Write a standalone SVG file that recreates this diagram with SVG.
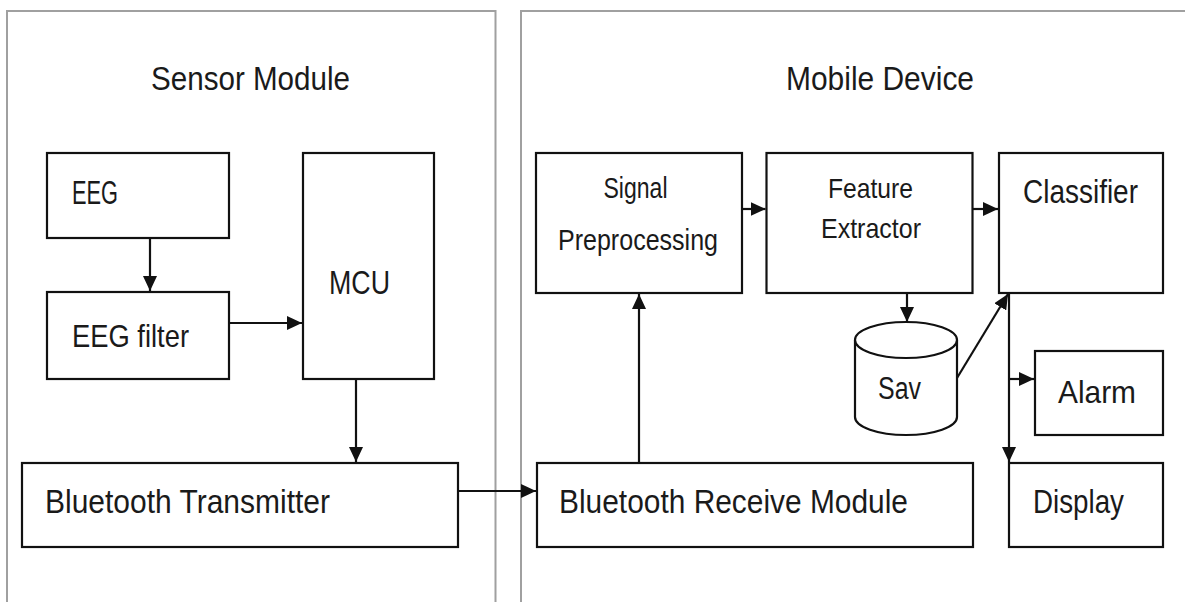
<svg xmlns="http://www.w3.org/2000/svg" width="1185" height="602" viewBox="0 0 1185 602">
  <style>
    .panel { fill: none; stroke: #a0a0a0; stroke-width: 2; }
    .box { fill: #ffffff; stroke: #111111; stroke-width: 2.2; }
    .link { fill: none; stroke: #111111; stroke-width: 2.2; }
    text { font-family: "Liberation Sans", Arial, sans-serif; fill: #1a1a1a; }
  </style>
  <defs>
    <marker id="head" markerUnits="userSpaceOnUse" markerWidth="16" markerHeight="14" refX="15" refY="7" orient="auto">
      <path d="M0,0 L15,7 L0,14 z" fill="#111111"/>
    </marker>
  </defs>

  <rect width="1185" height="602" fill="#ffffff"/>

  <!-- Two enclosing areas, open at the bottom -->
  <g id="sensor-module">
    <path class="panel" d="M7,602 V11 H495.5 V602"/>
    <text x="151" y="90" font-size="34" textLength="199" lengthAdjust="spacingAndGlyphs">Sensor Module</text>
  </g>
  <g id="mobile-device">
    <path class="panel" d="M521,602 V11 H1190"/>
    <text x="786" y="90" font-size="34" textLength="188" lengthAdjust="spacingAndGlyphs">Mobile Device</text>
  </g>

  <!-- Sensor side -->
  <g id="eeg">
    <rect class="box" x="47" y="153" width="182" height="85"/>
    <text x="72" y="204" font-size="33" textLength="46" lengthAdjust="spacingAndGlyphs">EEG</text>
  </g>
  <g id="eeg-filter">
    <rect class="box" x="47" y="292" width="182" height="87"/>
    <text x="72" y="347" font-size="32" textLength="117" lengthAdjust="spacingAndGlyphs">EEG filter</text>
  </g>
  <g id="mcu">
    <rect class="box" x="303" y="153" width="131" height="226"/>
    <text x="329" y="294" font-size="33" textLength="61" lengthAdjust="spacingAndGlyphs">MCU</text>
  </g>
  <g id="bt-transmitter">
    <rect class="box" x="22" y="463" width="436" height="84"/>
    <text x="45" y="513" font-size="34" textLength="285" lengthAdjust="spacingAndGlyphs">Bluetooth Transmitter</text>
  </g>

  <!-- Mobile side -->
  <g id="signal-preprocessing">
    <rect class="box" x="536" y="153" width="206" height="140"/>
    <text x="603.5" y="198" font-size="30" textLength="64" lengthAdjust="spacingAndGlyphs">Signal</text>
    <text x="558" y="250" font-size="29" textLength="160" lengthAdjust="spacingAndGlyphs">Preprocessing</text>
  </g>
  <g id="feature-extractor">
    <rect class="box" x="766.5" y="153" width="206" height="140"/>
    <text x="828" y="198" font-size="28" textLength="85" lengthAdjust="spacingAndGlyphs">Feature</text>
    <text x="821" y="238" font-size="28" textLength="100" lengthAdjust="spacingAndGlyphs">Extractor</text>
  </g>
  <g id="classifier">
    <rect class="box" x="999" y="153" width="164" height="140"/>
    <text x="1023" y="203" font-size="33" textLength="115" lengthAdjust="spacingAndGlyphs">Classifier</text>
  </g>
  <g id="sav">
    <path class="box" d="M855,340 V417 A51,18 0 0 0 957,417 V340"/>
    <ellipse class="box" cx="906" cy="340" rx="51" ry="18"/>
    <text x="878" y="399" font-size="31" textLength="43" lengthAdjust="spacingAndGlyphs">Sav</text>
  </g>
  <g id="alarm">
    <rect class="box" x="1035" y="351" width="128" height="84"/>
    <text x="1058" y="403" font-size="32" textLength="78" lengthAdjust="spacingAndGlyphs">Alarm</text>
  </g>
  <g id="bt-receive">
    <rect class="box" x="537" y="463" width="436" height="84"/>
    <text x="559" y="513" font-size="34" textLength="349" lengthAdjust="spacingAndGlyphs">Bluetooth Receive Module</text>
  </g>
  <g id="display">
    <rect class="box" x="1009" y="463" width="154" height="84"/>
    <text x="1033" y="513" font-size="33" textLength="91" lengthAdjust="spacingAndGlyphs">Display</text>
  </g>

  <!-- Connectors -->
  <g id="connectors">
    <line class="link" x1="150" y1="238" x2="150" y2="291" marker-end="url(#head)"/>
    <line class="link" x1="229" y1="323" x2="302" y2="323" marker-end="url(#head)"/>
    <line class="link" x1="356" y1="379" x2="356" y2="462" marker-end="url(#head)"/>
    <line class="link" x1="458" y1="491" x2="536" y2="491" marker-end="url(#head)"/>
    <line class="link" x1="639" y1="463" x2="639" y2="294" marker-end="url(#head)"/>
    <line class="link" x1="742" y1="209" x2="765.5" y2="209" marker-end="url(#head)"/>
    <line class="link" x1="972.5" y1="209" x2="998" y2="209" marker-end="url(#head)"/>
    <line class="link" x1="907" y1="293" x2="907" y2="322" marker-end="url(#head)"/>
    <line class="link" x1="957" y1="378" x2="1008" y2="294" marker-end="url(#head)"/>
    <line class="link" x1="1009" y1="293" x2="1009" y2="462" marker-end="url(#head)"/>
    <line class="link" x1="1009" y1="379" x2="1034" y2="379" marker-end="url(#head)"/>
  </g>
</svg>
